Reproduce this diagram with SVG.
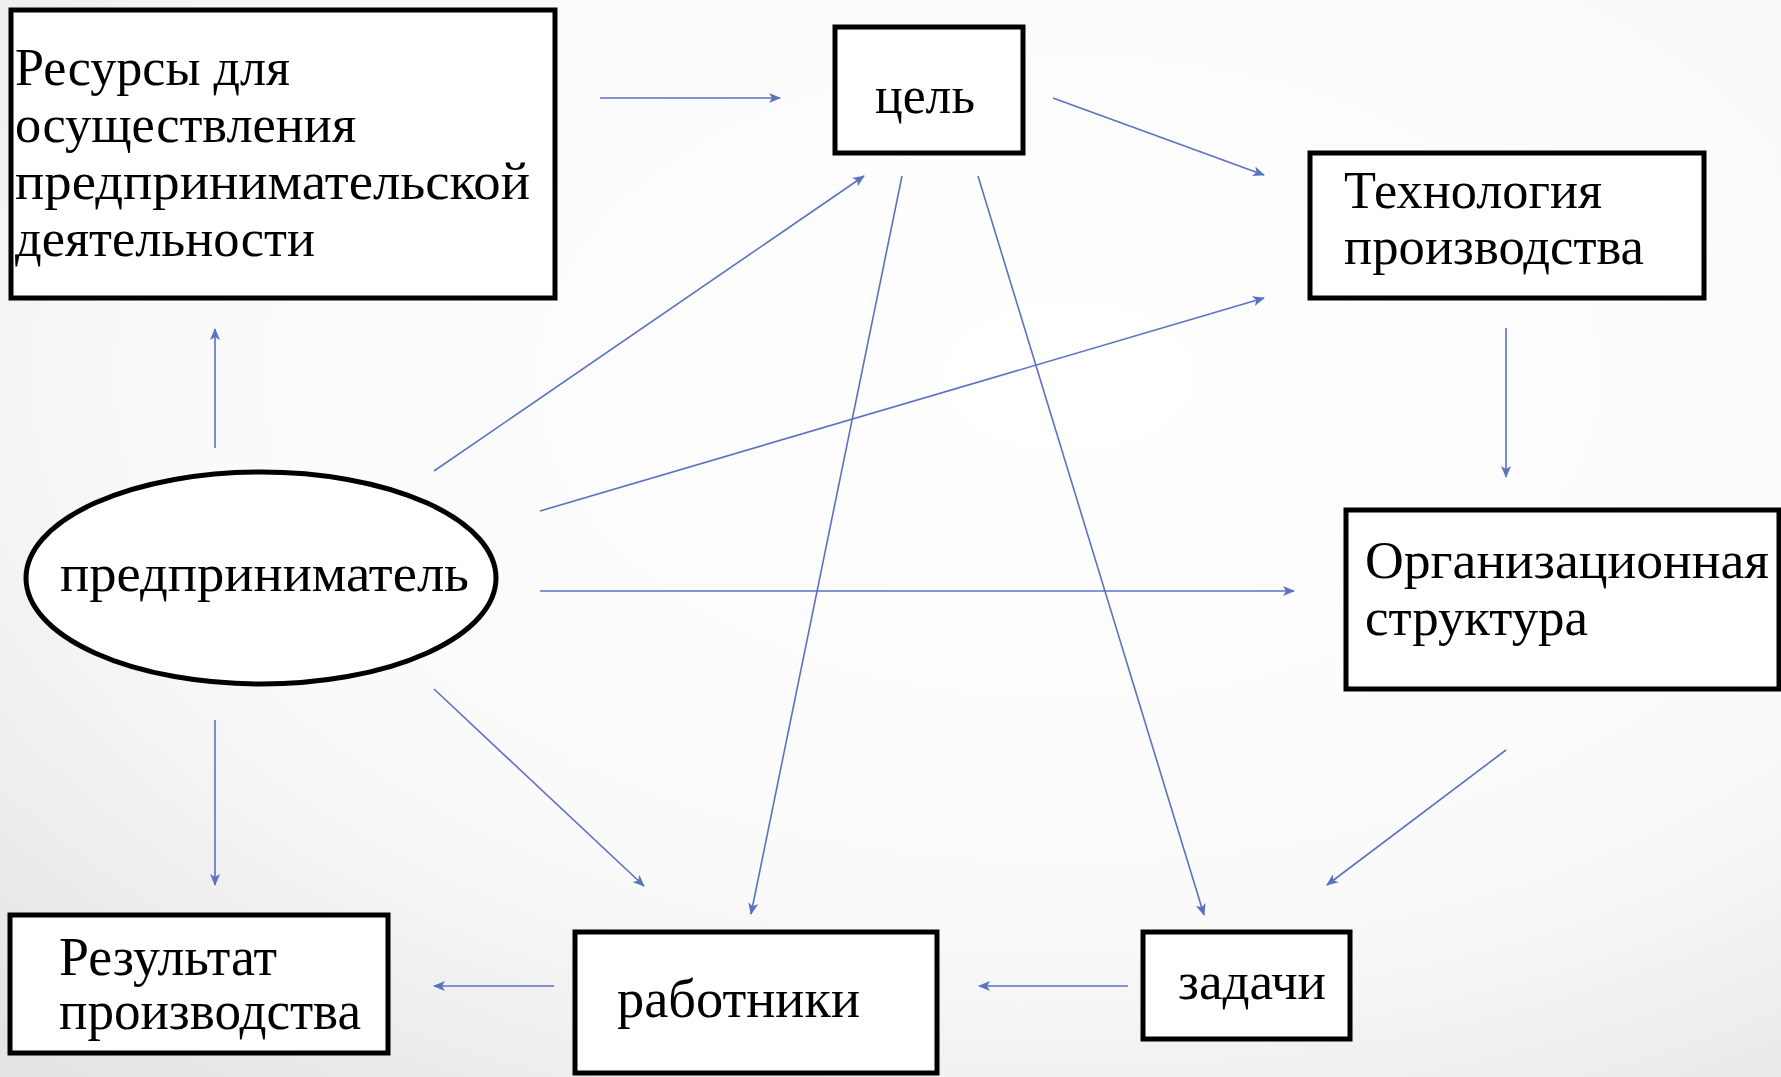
<svg xmlns="http://www.w3.org/2000/svg" width="1781" height="1077" viewBox="0 0 1781 1077">
<defs>
<radialGradient id="bg" cx="0.6" cy="0.35" r="0.85">
<stop offset="0" stop-color="#ffffff"/>
<stop offset="0.6" stop-color="#fafafa"/>
<stop offset="1" stop-color="#e4e4e4"/>
</radialGradient>
<marker id="ah" viewBox="0 0 12 10" refX="11" refY="5" markerWidth="12" markerHeight="10" markerUnits="userSpaceOnUse" orient="auto">
<path d="M0,0 L12,5 L0,10 L3,5 z" fill="#5b72bf"/>
</marker>
</defs>
<style>
.box{fill:#ffffff;stroke:#000000;stroke-width:5}
.t{font-family:"Liberation Serif","DejaVu Serif",serif;font-size:52px;fill:#000000}
.n{font-family:"Liberation Serif","DejaVu Serif",serif;font-size:54px;fill:#000000}
.c line{stroke:#5b72bf;stroke-width:1.6;marker-end:url(#ah)}
</style>
<rect width="1781" height="1077" fill="url(#bg)"/>
<g id="resources">
<rect class="box" x="11" y="10" width="544" height="288"/>
<text class="t" x="15" y="85" textLength="275" lengthAdjust="spacingAndGlyphs">Ресурсы для</text>
<text class="t" x="15" y="142" textLength="341" lengthAdjust="spacingAndGlyphs">осуществления</text>
<text class="t" x="15" y="199" textLength="515" lengthAdjust="spacingAndGlyphs">предпринимательской</text>
<text class="t" x="15" y="256" textLength="300" lengthAdjust="spacingAndGlyphs">деятельности</text>
</g>
<g id="goal">
<rect class="box" x="835" y="27" width="188" height="126"/>
<text class="t" x="875" y="113" textLength="100" lengthAdjust="spacingAndGlyphs">цель</text>
</g>
<g id="technology">
<rect class="box" x="1310" y="153" width="394" height="145"/>
<text class="t" x="1344" y="208" textLength="258" lengthAdjust="spacingAndGlyphs">Технология</text>
<text class="t" x="1344" y="264" textLength="300" lengthAdjust="spacingAndGlyphs">производства</text>
</g>
<g id="orgstructure">
<rect class="box" x="1346" y="510" width="433" height="179"/>
<text class="t" x="1365" y="578" textLength="404" lengthAdjust="spacingAndGlyphs">Организационная</text>
<text class="t" x="1365" y="635" textLength="223" lengthAdjust="spacingAndGlyphs">структура</text>
</g>
<g id="entrepreneur">
<ellipse cx="261" cy="578" rx="235" ry="106" fill="#ffffff" stroke="#000000" stroke-width="5"/>
<text class="t" x="60" y="591" textLength="409" lengthAdjust="spacingAndGlyphs">предприниматель</text>
</g>
<g id="result">
<rect class="box" x="10" y="915" width="378" height="138"/>
<text class="n" x="59" y="975" textLength="218" lengthAdjust="spacingAndGlyphs">Результат</text>
<text class="n" x="59" y="1029" textLength="302" lengthAdjust="spacingAndGlyphs">производства</text>
</g>
<g id="workers">
<rect class="box" x="575" y="932" width="362" height="141"/>
<text class="n" x="617" y="1017" textLength="243" lengthAdjust="spacingAndGlyphs">работники</text>
</g>
<g id="tasks">
<rect class="box" x="1143" y="932" width="207" height="107"/>
<text class="t" x="1178" y="999" textLength="148" lengthAdjust="spacingAndGlyphs">задачи</text>
</g>
<g id="connectors" class="c">
<line x1="600" y1="98" x2="780" y2="98"/>
<line x1="1053" y1="98" x2="1264" y2="175"/>
<line x1="434" y1="471" x2="864" y2="176"/>
<line x1="540" y1="511" x2="1264" y2="298"/>
<line x1="540" y1="591" x2="1294" y2="591"/>
<line x1="434" y1="689" x2="644" y2="886"/>
<line x1="215" y1="448" x2="215" y2="329"/>
<line x1="215" y1="720" x2="215" y2="885"/>
<line x1="902" y1="176" x2="751" y2="914"/>
<line x1="978" y1="176" x2="1204" y2="915"/>
<line x1="1506" y1="328" x2="1506" y2="477"/>
<line x1="1506" y1="750" x2="1327" y2="885"/>
<line x1="1128" y1="986" x2="979" y2="986"/>
<line x1="554" y1="986" x2="434" y2="986"/>
</g>
</svg>
